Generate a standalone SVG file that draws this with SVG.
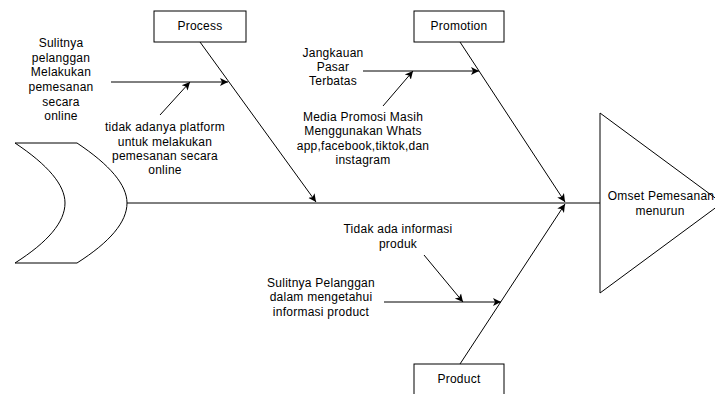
<svg xmlns="http://www.w3.org/2000/svg" width="715" height="394" viewBox="0 0 715 394">
<defs>
<style>
.box{fill:#fff;stroke:#000;stroke-width:1}
.ln{fill:none;stroke:#000;stroke-width:1}
.ar{fill:none;stroke:#000;stroke-width:1;marker-end:url(#ah)}
text{font-family:"Liberation Sans",Arial,sans-serif;font-size:12px;fill:#000;text-anchor:middle;letter-spacing:0.25px}
</style>
<marker id="ah" markerUnits="userSpaceOnUse" markerWidth="10" markerHeight="10" refX="8" refY="4" orient="auto" viewBox="0 0 10 8">
<path d="M0,0 L8,4 L0,8 L2,4 Z" fill="#000"/>
</marker>
</defs>
<rect width="715" height="394" fill="#fff"/>
<g id="connectors">
<line class="ln" x1="127" y1="203" x2="600" y2="203"/>
<line class="ar" x1="200" y1="42" x2="316" y2="202"/>
<line class="ar" x1="460" y1="42" x2="565" y2="202"/>
<line class="ar" x1="460" y1="364" x2="565" y2="204"/>
<line class="ar" x1="111" y1="82" x2="228" y2="82"/>
<line class="ar" x1="160" y1="115" x2="190" y2="82"/>
<line class="ar" x1="363" y1="71" x2="479" y2="71"/>
<line class="ar" x1="383" y1="106" x2="413" y2="71"/>
<line class="ar" x1="384" y1="302" x2="501" y2="302"/>
<line class="ar" x1="424" y1="255" x2="463" y2="302"/>
</g>
<g id="tail">
<path class="box" d="M15,143 L77,143 C110,165 127,185 127,203 C127,222 110,242 77,263 L15,263 C48,242 65,222 65,203 C65,185 48,165 15,143 Z"/>
</g>
<g id="head">
<path class="box" d="M600,113 L722,203 L600,293 Z"/>
<text x="661" y="200">Omset Pemesanan</text>
<text x="660" y="215">menurun</text>
</g>
<g id="process">
<rect class="box" x="154" y="11" width="92" height="31"/>
<text x="200" y="30">Process</text>
</g>
<g id="promotion">
<rect class="box" x="414" y="11" width="90" height="31"/>
<text x="459" y="30">Promotion</text>
</g>
<g id="product">
<rect class="box" x="414" y="364" width="90" height="40"/>
<text x="459" y="383">Product</text>
</g>
<g id="cause-process-1">
<text x="61" y="47">Sulitnya</text>
<text x="61" y="62">pelanggan</text>
<text x="61" y="76">Melakukan</text>
<text x="61" y="91">pemesanan</text>
<text x="61" y="106">secara</text>
<text x="61" y="120">online</text>
</g>
<g id="cause-process-2">
<text x="165" y="131">tidak adanya platform</text>
<text x="165" y="146">untuk melakukan</text>
<text x="165" y="160">pemesanan secara</text>
<text x="165" y="174">online</text>
</g>
<g id="cause-promotion-1">
<text x="333" y="57">Jangkauan</text>
<text x="333" y="71">Pasar</text>
<text x="333" y="85">Terbatas</text>
</g>
<g id="cause-promotion-2">
<text x="363" y="121">Media Promosi Masih</text>
<text x="363" y="135">Menggunakan Whats</text>
<text x="363" y="150">app,facebook,tiktok,dan</text>
<text x="363" y="164">instagram</text>
</g>
<g id="cause-product-1">
<text x="398" y="233">Tidak ada informasi</text>
<text x="398" y="248">produk</text>
</g>
<g id="cause-product-2">
<text x="321" y="287">Sulitnya Pelanggan</text>
<text x="321" y="301">dalam mengetahui</text>
<text x="321" y="316">informasi product</text>
</g>
</svg>
